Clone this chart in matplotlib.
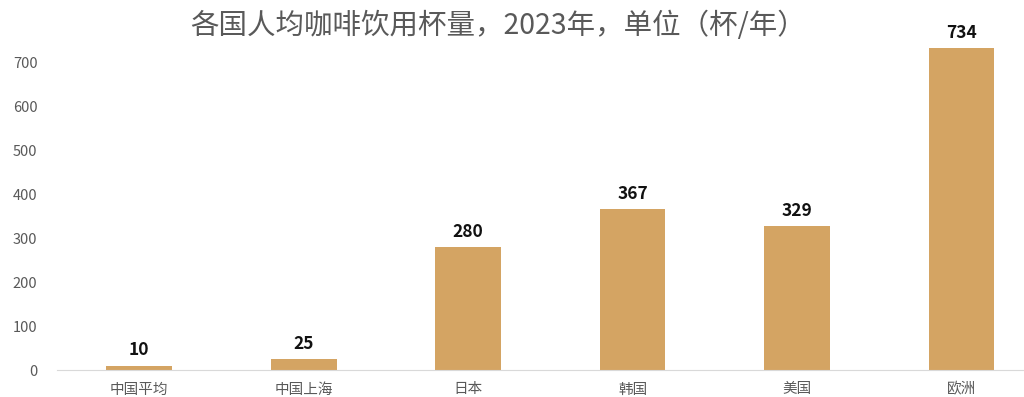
import matplotlib.pyplot as plt

plt.rcParams['font.family'] = ['Noto Sans CJK SC', 'DejaVu Sans']

# data
regions = ['中国平均', '中国上海', '日本', '韩国', '美国', '欧洲']
cups = [10, 25, 280, 367, 329, 734]
yticks = [0, 100, 200, 300, 400, 500, 600, 700]

fig = plt.figure(figsize=(10.24, 3.97), dpi=100)
ax = fig.add_axes([57 / 1024, 27 / 397, 967 / 1024, 370 / 397])

bars = ax.bar(range(len(regions)), cups, width=0.4, color='#D4A463')
for b, v in zip(bars, cups):
    ax.text(b.get_x() + b.get_width() / 2, v + 14, str(v), ha='center', va='bottom',
            fontsize=12.5, fontweight='bold', color='#111111')

ax.set_xlim(-0.5, 5.38)
ax.set_ylim(0, 843.6)
ax.set_yticks(yticks)
ax.set_xticks(range(len(regions)))
ax.set_xticklabels(regions)
ax.tick_params(axis='both', length=0, colors='#595959', labelsize=10.5)
ax.tick_params(axis='y', pad=14)
ax.tick_params(axis='x', pad=9)
for s in ['top', 'right', 'left']:
    ax.spines[s].set_visible(False)
ax.spines['bottom'].set_color('#d9d9d9')

fig.text(0.486, 0.935, '各国人均咖啡饮用杯量，2023年，单位（杯/年）', ha='center', va='center',
         fontsize=20.5, color='#595959')

fig.savefig('out.png', dpi=100)
